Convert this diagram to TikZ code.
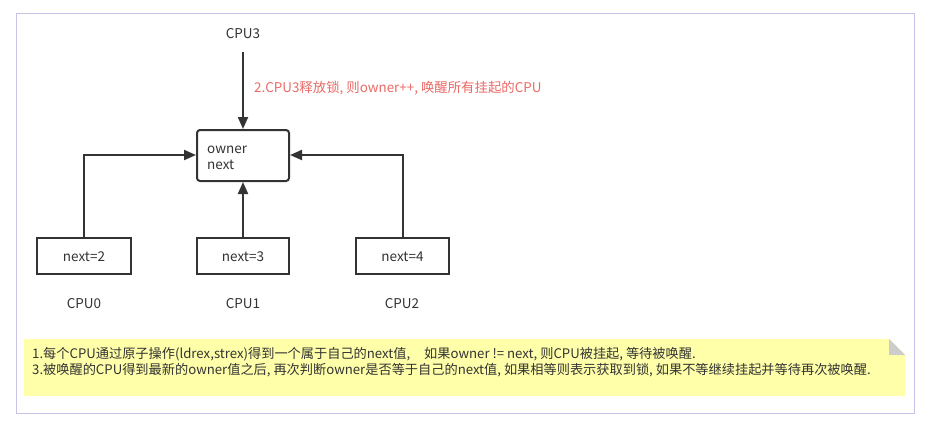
\documentclass[tikz,border=0pt]{standalone}
\usepackage{fontspec}
\setmainfont{Noto Sans CJK SC}
\usetikzlibrary{arrows.meta}
\definecolor{frame}{HTML}{C8C2E6}
\definecolor{ink}{HTML}{333333}
\definecolor{redtxt}{HTML}{EA6B66}
\definecolor{noteyel}{HTML}{FFFFAA}
\definecolor{fold}{HTML}{CCCCCC}
\begin{document}
\begin{tikzpicture}[x=1pt,y=-1pt,
  box/.style={draw=ink,line width=2pt,fill=white},
  conn/.style={draw=ink,line width=2pt,-{Triangle[length=12pt,width=10pt]}},
  lbl/.style={text=ink,font=\fontsize{13.5}{15}\selectfont,inner sep=0pt},
  notetxt/.style={text=ink,font=\fontsize{13.2}{16}\selectfont,inner sep=0pt,align=left,anchor=west}]
\useasboundingbox (0,0) rectangle (939,440);
\fill[white] (0,0) rectangle (939,440);
\draw[frame,line width=0.8pt] (16,13) rectangle (914,413);
% nodes
\node[box,rounded corners=3pt,minimum width=92pt,minimum height=51pt,inner sep=0pt] (own) at (243,155.5) {};
\node[lbl,anchor=west,align=left,font=\fontsize{13.5}{16}\selectfont] (owntxt) at (207,157.5) {owner\\next};
\node[box,minimum width=94pt,minimum height=36pt,inner sep=0pt] (n2) at (84,256) {};
\node[box,minimum width=92pt,minimum height=36pt,inner sep=0pt] (n3) at (243,256) {};
\node[box,minimum width=93pt,minimum height=36pt,inner sep=0pt] (n4) at (402.5,256) {};
\node[lbl] (t2) at ([yshift=-1pt]n2.center) {next=2};
\node[lbl] (t3) at ([yshift=-1pt]n3.center) {next=3};
\node[lbl] (t4) at ([yshift=-1pt]n4.center) {next=4};
\node[lbl] (cpu3) at (243,34) {CPU3};
\node[lbl] (cpu0) at (84,304) {CPU0};
\node[lbl] (cpu1) at (243,304) {CPU1};
\node[lbl] (cpu2) at (402,304) {CPU2};
\coordinate (c3s) at (243,52);
\node[lbl,text=redtxt,anchor=west,font=\fontsize{13.4}{15}\selectfont] (rl) at (254,88) {2.CPU3释放锁, 则owner++, 唤醒所有挂起的CPU};
% connectors
\draw[conn] (c3s) -- (own.north);
\draw[conn] (n3.north) -- (own.south);
\draw[conn] (n2.north) |- ([yshift=0.5pt]own.west);
\draw[conn] (n4.north) |- ([yshift=0.5pt]own.east);
% note
\fill[noteyel] (24,339) -- (889,339) -- (905,355) -- (905,396) -- (24,396) -- cycle;
\fill[fold] (889,339) -- (905,355) -- (889,355) -- cycle;
\node[notetxt] (note) at (32,362) {1.每个CPU通过原子操作(ldrex,strex)得到一个属于自己的next值,\hspace{14pt}如果owner != next, 则CPU被挂起, 等待被唤醒.\\3.被唤醒的CPU得到最新的owner值之后, 再次判断owner是否等于自己的next值, 如果相等则表示获取到锁, 如果不等继续挂起并等待再次被唤醒.};
\end{tikzpicture}
\end{document}
